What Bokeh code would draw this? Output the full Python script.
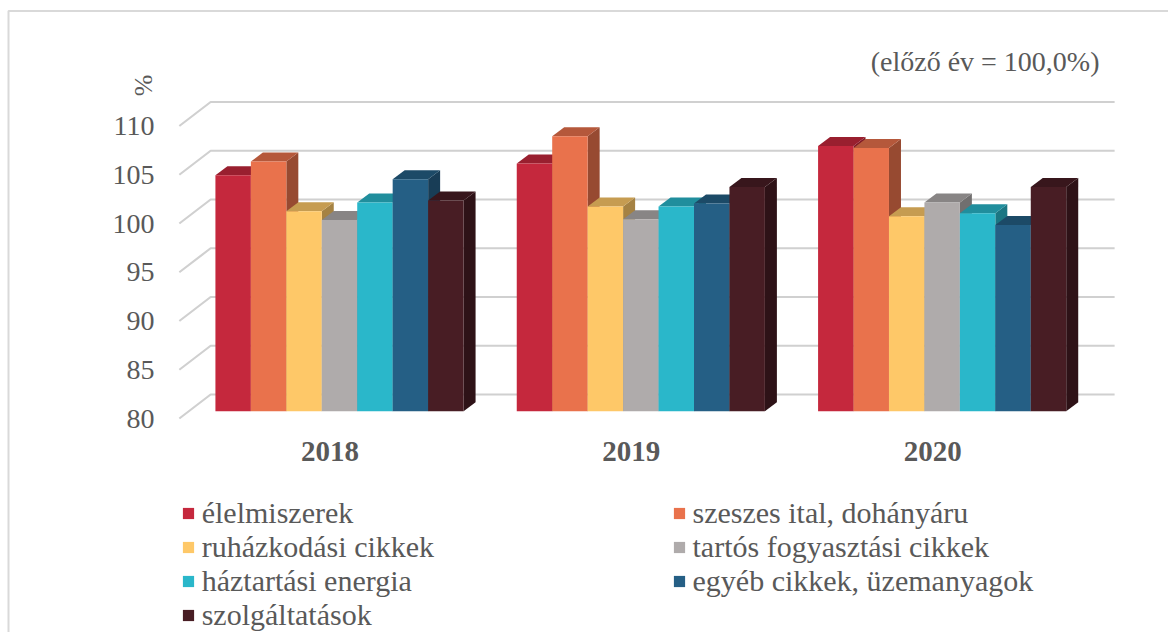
import math
from bokeh.plotting import figure
from bokeh.models import Range1d, ColumnDataSource, Legend, LegendItem
from bokeh.core.properties import value
from bokeh.embed import file_html
from bokeh.resources import INLINE

# ---------------- data ----------------
years = ["2018", "2019", "2020"]
categories = [
    "élelmiszerek",
    "szeszes ital, dohányáru",
    "ruházkodási cikkek",
    "tartós fogyasztási cikkek",
    "háztartási energia",
    "egyéb cikkek, üzemanyagok",
    "szolgáltatások",
]
elelmiszerek = [104.2, 105.4, 107.2]
szeszes_ital = [105.6, 108.2, 107.0]
ruhazkodasi = [100.5, 101.0, 100.0]
tartos = [99.6, 99.7, 101.4]
haztartasi_energia = [101.4, 101.0, 100.3]
egyeb = [103.8, 101.3, 99.1]
szolgaltatasok = [101.6, 103.0, 103.0]
series = [elelmiszerek, szeszes_ital, ruhazkodasi, tartos,
          haztartasi_energia, egyeb, szolgaltatasok]
colors = ["#C5283D", "#E9724C", "#FEC868", "#AFABAB",
          "#2AB7CA", "#255F85", "#481D24"]
ytick_values = [80, 85, 90, 95, 100, 105, 110]
ytick_labels = ["80", "85", "90", "95", "100", "105", "110"]
unit_label = "%"
note = "(előző év = 100,0%)"

# ---------------- geometry ----------------
W, H = 1168, 632
PX0, PY0 = 0, 0          # page offset of canvas
PXX, PXY = 35.45, 9.75   # pixels per data unit
BASE = 80
x_start = -(339 - PX0) / PXX
y_end = BASE + (410.7 - PY0) / PXY

def sx(X):
    return x_start + (X - PX0) / PXX

def sy(Y):
    return y_end - (Y - PY0) / PXY

GROUP = 8.5              # 7 bars + 150% gap
NB = len(categories)
DX, DY = 12 / PXX, 9 / PXY            # bar depth
DXW, DYW = 21.8 / PXX, 16.7 / PXY     # back wall offset
DXF, DYF = -9.5 / PXX, -7.3 / PXY     # front plane offset
LEFT = -NB / 2 - 0.75
RIGHT = (len(years) - 1) * GROUP + NB / 2 + 0.75

TXT = "#595959"
FONTNAME = "Liberation Serif"
FONT = value(FONTNAME)

def shade(hexc, f):
    h = hexc.lstrip("#")
    r, g, b = (int(h[i:i + 2], 16) for i in (0, 2, 4))
    return "#%02x%02x%02x" % (int(r * f), int(g * f), int(b * f))

p = figure(width=W, height=H, x_range=Range1d(x_start, x_start + W / PXX),
           y_range=Range1d(y_end - H / PXY, y_end),
           x_axis_type=None, y_axis_type=None, toolbar_location=None,
           output_backend="svg", min_border=0, outline_line_color=None,
           background_fill_color="white", border_fill_color="white")

# outer border (top & left visible)
p.line([sx(8), sx(8), sx(1300)], [sy(700), sy(10.5), sy(10.5)],
       line_color="#d9d9d9", line_width=2)

# gridlines: side wall diagonal + back wall
gx, gy = [], []
for v in ytick_values:
    gx.append([LEFT + DXF, LEFT + DXW, RIGHT + DXW])
    gy.append([v + DYF, v + DYW, v + DYW])
p.multi_line(gx, gy, line_color="#d0d0d0", line_width=2.2)

# tick labels
p.text(x=[sx(154)] * len(ytick_values), y=[v + DYF for v in ytick_values],
       text=ytick_labels, text_align="right", text_baseline="middle",
       text_font=FONT, text_font_size="28px", text_color=TXT)

# unit label
p.text(x=[sx(143)], y=[sy(85)], text=[unit_label], angle=math.pi / 2,
       text_align="center", text_baseline="middle",
       text_font=FONT, text_font_size="26px", text_color=TXT)

# note
p.text(x=[sx(1099)], y=[sy(61)], text=[note], text_align="right",
       text_baseline="alphabetic", text_font=FONT, text_font_size="28px",
       text_color=TXT)

# bars
items = []
for j, (cat, vals, col) in enumerate(zip(categories, series, colors)):
    xc = [i * GROUP + (j - (NB - 1) / 2) for i in range(len(years))]
    side_xs, side_ys, top_xs, top_ys = [], [], [], []
    for c, v in zip(xc, vals):
        l, r = c - 0.5, c + 0.5
        side_xs.append([r, r + DX, r + DX, r])
        side_ys.append([BASE, BASE + DY, v + DY, v])
        top_xs.append([l, r, r + DX, l + DX])
        top_ys.append([v, v, v + DY, v + DY])
    p.patches(side_xs, side_ys, fill_color=shade(col, 0.65), line_color=None)
    p.patches(top_xs, top_ys, fill_color=shade(col, 0.78), line_color=None)
    src = ColumnDataSource(dict(x=xc, top=vals))
    r = p.vbar(x="x", top="top", bottom=BASE, width=1.0, source=src,
               fill_color=col, line_color=None)
    items.append(LegendItem(label=cat, renderers=[r]))

# year labels
p.text(x=[i * GROUP + DXF for i in range(len(years))],
       y=[BASE + DYF - 33 / PXY] * len(years), text=years,
       text_align="center", text_baseline="middle", text_font=FONT,
       text_font_size="29px", text_font_style="bold", text_color=TXT)

def make_legend(its, X, nrows):
    pitch = 33.3
    top = 515.0 - pitch / 2
    bottom = top + nrows * pitch
    leg = Legend(items=its, location=(X - PX0, (PY0 + H) - bottom),
                 orientation="vertical", padding=0, margin=0, spacing=0,
                 glyph_width=14, glyph_height=14, label_standoff=7,
                 label_height=33, label_text_font=FONTNAME,
                 label_text_font_size="30px", label_text_color=TXT,
                 border_line_color=None, background_fill_alpha=0)
    return leg

p.add_layout(make_legend(items[0::2], 180.7, 4))
p.add_layout(make_legend(items[1::2], 671.5, 3))

open("out.html", "w").write(file_html(p, INLINE))
